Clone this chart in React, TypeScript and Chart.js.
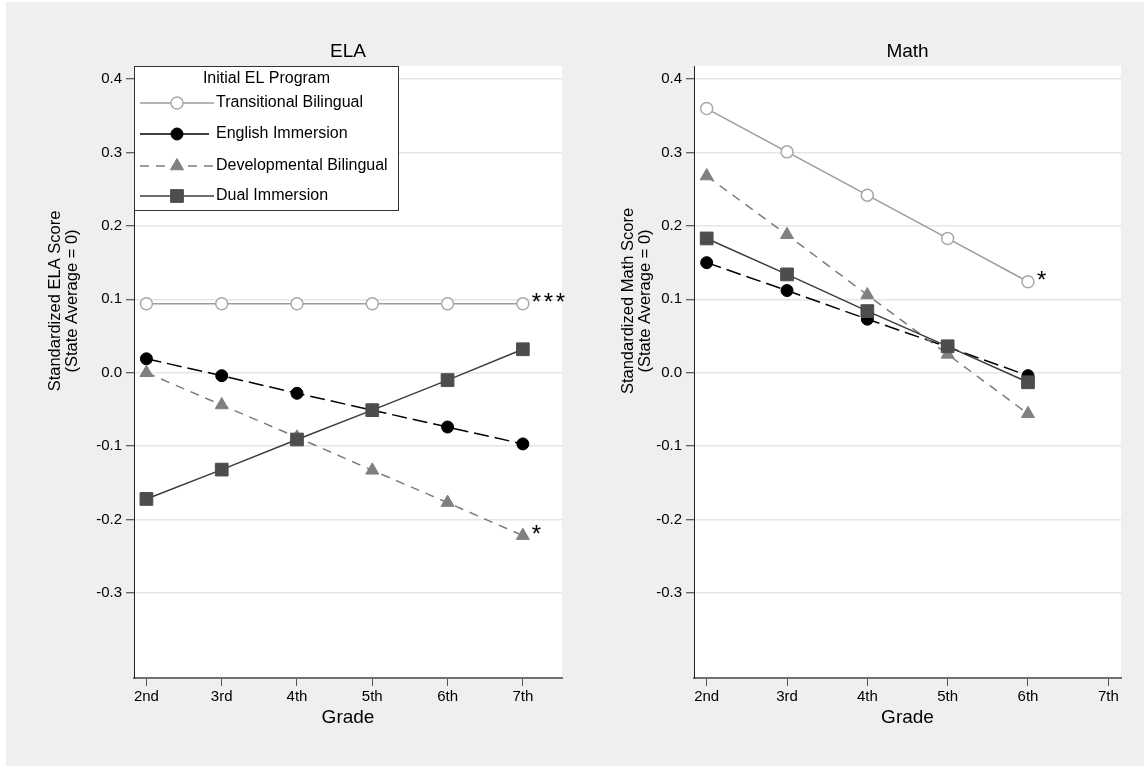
import React, { useEffect, useRef } from 'react';
import { Chart, registerables } from 'chart.js';

Chart.register(...registerables);

// ---------- data ----------
const gradeValues = [2, 3, 4, 5, 6, 7];
const gradeLabels = ['2nd', '3rd', '4th', '5th', '6th', '7th'];
const yTickValues = [0.4, 0.3, 0.2, 0.1, 0, -0.1, -0.2, -0.3];
const seriesNames = ['Transitional Bilingual', 'English Immersion', 'Developmental Bilingual', 'Dual Immersion'];
const legendTitle = 'Initial EL Program';

const elaTransitional = [0.094, 0.094, 0.094, 0.094, 0.094, 0.094];
const elaEnglish = [0.019, -0.004, -0.028, -0.051, -0.074, -0.097];
const elaDevelopmental = [0.0, -0.044, -0.088, -0.133, -0.177, -0.222];
const elaDual = [-0.172, -0.132, -0.091, -0.051, -0.01, 0.032];
const elaStars = ['***', '', '*', ''];

const mathTransitional = [0.36, 0.301, 0.242, 0.183, 0.124];
const mathEnglish = [0.15, 0.112, 0.073, 0.035, -0.004];
const mathDevelopmental = [0.268, 0.188, 0.106, 0.025, -0.056];
const mathDual = [0.183, 0.134, 0.084, 0.036, -0.013];
const mathStars = ['*', '', '', ''];

// ---------- styles ----------
const FONT = '"Liberation Sans", Arial, Helvetica, sans-serif';
const styles = [
  { line: '#9c9c9c', dash: [] as number[], legendDash: [] as number[], shape: 'circle', radius: 6, fill: '#ffffff', stroke: '#a8a8a8', strokeW: 1.5 },
  { line: '#000000', dash: [15, 6], legendDash: [] as number[], shape: 'circle', radius: 6, fill: '#000000', stroke: '#000000', strokeW: 1 },
  { line: '#7c7c7c', dash: [9, 7], legendDash: [9, 7], shape: 'triangle', radius: 7.5, fill: '#808080', stroke: '#808080', strokeW: 1 },
  { line: '#3c3c3c', dash: [] as number[], legendDash: [] as number[], shape: 'rect', radius: 9, fill: '#4d4d4d', stroke: '#4d4d4d', strokeW: 1 },
];

function drawMarker(ctx: CanvasRenderingContext2D, st: any, x: number, y: number) {
  ctx.save();
  ctx.setLineDash([]);
  ctx.fillStyle = st.fill;
  ctx.strokeStyle = st.stroke;
  ctx.lineWidth = st.strokeW;
  ctx.beginPath();
  if (st.shape === 'circle') {
    ctx.arc(x, y, st.radius, 0, Math.PI * 2);
  } else if (st.shape === 'triangle') {
    for (let k = 0; k < 3; k++) {
      const a = (k * 2 * Math.PI) / 3;
      const px = x + Math.sin(a) * st.radius;
      const py = y - Math.cos(a) * st.radius;
      if (k === 0) ctx.moveTo(px, py);
      else ctx.lineTo(px, py);
    }
    ctx.closePath();
  } else {
    const s = Math.SQRT1_2 * st.radius;
    ctx.rect(x - s, y - s, 2 * s, 2 * s);
  }
  ctx.fill();
  ctx.stroke();
  ctx.restore();
}

function makePlugin(title: string, yTitle: string[], yTitleX: number, stars: string[], showLegend: boolean) {
  return {
    id: 'panelDecor',
    beforeDraw(chart: any) {
      const { ctx, chartArea: a } = chart;
      ctx.save();
      ctx.fillStyle = '#ffffff';
      ctx.fillRect(a.left, a.top, a.right - a.left, a.bottom - a.top);
      ctx.fillStyle = '#000000';
      ctx.font = `19px ${FONT}`;
      ctx.textAlign = 'center';
      ctx.textBaseline = 'middle';
      ctx.fillText(title, (a.left + a.right) / 2, a.top - 14);
      // y axis title (two lines, rotated)
      ctx.font = `16.5px ${FONT}`;
      yTitle.forEach((line, i) => {
        ctx.save();
        ctx.translate(yTitleX + i * 17, 301);
        ctx.rotate(-Math.PI / 2);
        ctx.fillText(line, 0, 0);
        ctx.restore();
      });
      ctx.restore();
    },
    afterDatasetsDraw(chart: any) {
      const { ctx } = chart;
      ctx.save();
      ctx.fillStyle = '#000000';
      ctx.font = `24px ${FONT}`;
      ctx.textAlign = 'left';
      ctx.textBaseline = 'middle';
      stars.forEach((s, i) => {
        if (!s) return;
        const meta = chart.getDatasetMeta(i);
        const pt = meta.data[meta.data.length - 1];
        for (let k = 0; k < s.length; k++) {
          ctx.fillText(s[k], pt.x + 9 + k * 12, pt.y);
        }
      });
      ctx.restore();
    },
    afterDraw(chart: any) {
      if (!showLegend) return;
      const { ctx, chartArea: a } = chart;
      const L = a.left;
      const T = a.top;
      const W = 265;
      const H = 145;
      ctx.save();
      ctx.fillStyle = '#ffffff';
      ctx.fillRect(L, T, W, H);
      ctx.strokeStyle = '#333333';
      ctx.lineWidth = 1;
      ctx.strokeRect(L + 0.5, T + 0.5, W - 1, H - 1);
      ctx.fillStyle = '#000000';
      ctx.font = `16px ${FONT}`;
      ctx.textBaseline = 'middle';
      ctx.textAlign = 'center';
      ctx.fillText(legendTitle, L + W / 2, T + 13);
      const rows = [37, 68, 100, 130];
      seriesNames.forEach((name, i) => {
        const st = styles[i];
        const y = T + rows[i];
        ctx.save();
        ctx.strokeStyle = st.line;
        ctx.lineWidth = 1.5;
        ctx.setLineDash(st.legendDash);
        ctx.beginPath();
        ctx.moveTo(L + 6, y);
        ctx.lineTo(L + (i === 1 ? 75 : 80), y);
        ctx.stroke();
        ctx.restore();
        drawMarker(ctx, st, L + 43, y);
        ctx.fillStyle = '#000000';
        ctx.textAlign = 'left';
        ctx.fillText(name, L + 82, y);
      });
      ctx.restore();
    },
  };
}

interface PanelProps {
  title: string;
  yTitle: string[];
  series: number[][];
  stars: string[];
  xMin: number;
  xMax: number;
  width: number;
  yWidth: number;
  padRight: number;
  yTitleX: number;
  showLegend: boolean;
  left: number;
}

function Panel(p: PanelProps) {
  const ref = useRef<HTMLCanvasElement>(null);
  useEffect(() => {
    if (!ref.current) return;
    const datasets = p.series.map((vals, i) => {
      const st = styles[i];
      return {
        label: seriesNames[i],
        data: vals.map((v, j) => ({ x: gradeValues[j], y: v })),
        borderColor: st.line,
        borderWidth: 1.5,
        borderDash: st.dash,
        pointStyle: st.shape,
        pointRadius: st.radius,
        pointBackgroundColor: st.fill,
        pointBorderColor: st.stroke,
        pointBorderWidth: st.strokeW,
        fill: false,
        tension: 0,
        order: 3 - i,
      };
    });
    const chart = new Chart(ref.current, {
      type: 'line',
      data: { datasets },
      options: {
        animation: false,
        responsive: false,
        maintainAspectRatio: false,
        layout: { padding: { top: 66, left: 0, right: p.padRight, bottom: 38 } },
        plugins: { legend: { display: false }, tooltip: { enabled: false }, title: { display: false } },
        scales: {
          x: {
            type: 'linear',
            min: p.xMin,
            max: p.xMax,
            afterBuildTicks: (s: any) => {
              s.ticks = gradeValues.map((v) => ({ value: v }));
            },
            afterFit: (s: any) => {
              s.height = 50;
            },
            ticks: {
              callback: (v: any) => gradeLabels[gradeValues.indexOf(Number(v))],
              font: { family: FONT, size: 15 },
              color: '#000000',
              padding: 2,
              maxRotation: 0,
              autoSkip: false,
            },
            grid: { drawOnChartArea: false, tickLength: 8, color: '#555555', tickColor: '#555555', tickWidth: 1 },
            border: { color: '#707070', width: 2 },
            title: { display: true, text: 'Grade', font: { family: FONT, size: 19 }, color: '#000000', padding: { top: 0, bottom: -1 } },
          },
          y: {
            type: 'linear',
            min: -0.416,
            max: 0.418,
            afterBuildTicks: (s: any) => {
              s.ticks = yTickValues.map((v) => ({ value: v }));
            },
            afterFit: (s: any) => {
              s.width = p.yWidth;
            },
            ticks: {
              callback: (v: any) => Number(v).toFixed(1),
              font: { family: FONT, size: 15 },
              color: '#000000',
              padding: 4,
            },
            grid: { color: '#e6e6e6', lineWidth: 1.5, tickLength: 8, tickColor: '#333333', tickWidth: 1 },
            border: { color: '#222222', width: 1 },
            title: { display: false },
          },
        },
      } as any,
      plugins: [makePlugin(p.title, p.yTitle, p.yTitleX, p.stars, p.showLegend)],
    });
    return () => chart.destroy();
  }, []);
  return (
    <canvas
      ref={ref}
      width={p.width}
      height={766}
      style={{ position: 'absolute', left: p.left, top: 0, width: p.width, height: 766 }}
    />
  );
}

export default function App() {
  return (
    <div style={{ position: 'fixed', left: 0, top: 0, width: 1144, height: 766, background: '#ffffff', overflow: 'hidden' }}>
      <div style={{ position: 'absolute', left: 6, top: 2, right: 0, bottom: 0, background: '#efefef' }} />
      <Panel
        title="ELA"
        yTitle={['Standardized ELA Score', '(State Average = 0)']}
        series={[elaTransitional, elaEnglish, elaDevelopmental, elaDual]}
        stars={elaStars}
        xMin={1.835}
        xMax={7.52}
        width={580}
        yWidth={134}
        padRight={18}
        yTitleX={55}
        showLegend={true}
        left={0}
      />
      <Panel
        title="Math"
        yTitle={['Standardized Math Score', '(State Average = 0)']}
        series={[mathTransitional, mathEnglish, mathDevelopmental, mathDual]}
        stars={mathStars}
        xMin={1.842}
        xMax={7.158}
        width={564}
        yWidth={114}
        padRight={23}
        yTitleX={48}
        showLegend={false}
        left={580}
      />
    </div>
  );
}
